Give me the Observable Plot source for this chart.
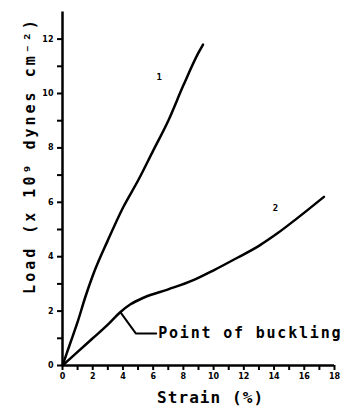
<!DOCTYPE html>
<html>
<head>
<meta charset="utf-8">
<script src="https://cdn.jsdelivr.net/npm/d3@7"></script>
<script src="https://cdn.jsdelivr.net/npm/@observablehq/plot@0.6"></script>
<style>
  html, body { margin: 0; padding: 0; background: #fff; }
  svg { display: block; }
</style>
</head>
<body>
<div id="chart"></div>
<script>
// Curve 1
const strain1 = [0, 0.5, 1, 1.5, 2, 3, 4, 5, 6, 7, 8, 9, 9.3];
const load1   = [0, 0.8, 1.6, 2.5, 3.3, 4.6, 5.8, 6.8, 7.9, 9.0, 10.3, 11.5, 11.8];
// Curve 2
const strain2 = [0, 1, 2, 3, 3.8, 4.5, 5.4, 7, 8.7, 10, 11.6, 13, 14.2, 15.5, 17.3];
const load2   = [0, 0.5, 1.0, 1.5, 1.95, 2.25, 2.5, 2.8, 3.15, 3.5, 3.97, 4.4, 4.85, 5.4, 6.2];
// Curve labels
const curveLabels = ["1", "2"];
const curveLabelX = [6.4, 14.1];
const curveLabelY = [10.6, 5.8];
// Annotation
const buckleText = "Point of buckling";
const buckleLeaderX = [3.84, 4.85, 6.2];
const buckleLeaderY = [1.95, 1.18, 1.18];
// Axes
const xTicks = d3.range(0, 19, 1);
const yTicks = d3.range(0, 13, 1);
const xTitle = "Strain (%)";
const yTitle = "Load (x 10⁹ dynes cm⁻²)";

const c1 = strain1.map((x, i) => ({x, y: load1[i]}));
const c2 = strain2.map((x, i) => ({x, y: load2[i]}));
const leader = buckleLeaderX.map((x, i) => ({x, y: buckleLeaderY[i]}));
const labs = curveLabels.map((t, i) => ({t, x: curveLabelX[i], y: curveLabelY[i]}));

const font = "'DejaVu Sans Mono', monospace";

const chart = Plot.plot({
  width: 348,
  height: 408,
  marginLeft: 62,
  marginRight: 14,
  marginTop: 11.4,
  marginBottom: 43,
  style: {fontFamily: "'DejaVu Sans', sans-serif", background: "#fff", color: "#000"},
  x: {domain: [0, 18]},
  y: {domain: [0, 13]},
  marks: [
    Plot.axisX({ticks: xTicks, tickFormat: d => d % 2 === 0 ? d : "", tickSize: 5, tickPadding: 3,
      fontSize: 8, fontWeight: "bold", strokeWidth: 2, label: null}),
    Plot.axisY({ticks: yTicks, tickFormat: d => d % 2 === 0 ? d : "", tickSize: 5, tickPadding: 4,
      fontSize: 8, fontWeight: "bold", strokeWidth: 2, label: null}),
    Plot.ruleX([0], {strokeWidth: 2.5}),
    Plot.ruleY([0], {strokeWidth: 2.5}),
    Plot.line(c1, {x: "x", y: "y", strokeWidth: 2.5, curve: "monotone-x"}),
    Plot.line(c2, {x: "x", y: "y", strokeWidth: 2.5, curve: "monotone-x"}),
    Plot.line(leader, {x: "x", y: "y", strokeWidth: 2}),
    Plot.text(labs, {x: "x", y: "y", text: "t", fontSize: 9, fontWeight: "bold", fontFamily: font}),
    Plot.text([buckleText], {x: buckleLeaderX[2], y: buckleLeaderY[2], dx: 2, text: d => d, textAnchor: "start",
      fontSize: 15, fontWeight: "bold", fontFamily: font}),
    Plot.text([xTitle], {frameAnchor: "bottom", x: 9.8, dy: 37, text: d => d, textAnchor: "middle",
      fontSize: 16, fontWeight: "bold", fontFamily: font}),
    Plot.text([yTitle], {frameAnchor: "left", y: 7.72, dx: -32, rotate: -90, text: d => d, textAnchor: "middle",
      fontSize: 15, fontWeight: "bold", fontFamily: font})
  ]
});
const spacing = {[buckleText]: "1.8px", [xTitle]: "1.1px", [yTitle]: "3px"};
d3.select(chart).selectAll("text").each(function() {
  const s = spacing[this.textContent];
  if (s) this.setAttribute("letter-spacing", s);
});
document.getElementById("chart").appendChild(chart);
</script>
</body>
</html>
